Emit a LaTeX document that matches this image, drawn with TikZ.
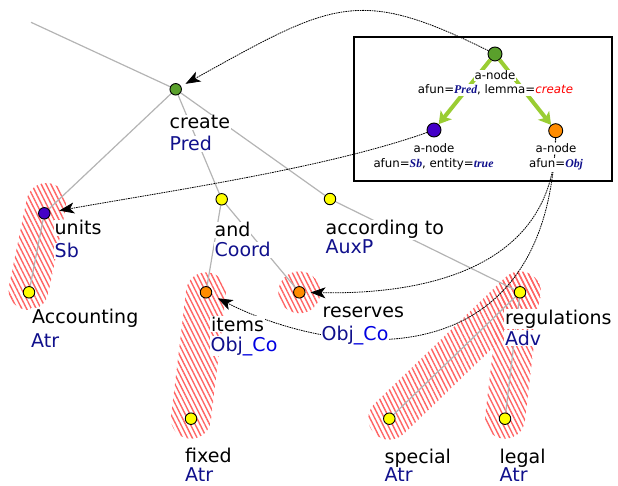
\documentclass[tikz,border=0pt]{standalone}
\usepackage{fontspec}
\setmainfont{DejaVu Sans}
\newfontfamily\lserif{Liberation Serif}
\usetikzlibrary{arrows.meta,patterns.meta}
\definecolor{navyc}{RGB}{16,16,140}
\definecolor{brightblue}{RGB}{0,0,225}
\definecolor{edgegray}{RGB}{180,180,180}
\definecolor{ygreen}{RGB}{154,205,50}
\definecolor{hatchred}{RGB}{255,100,100}
\definecolor{ngreen}{RGB}{90,160,44}
\definecolor{npurple}{RGB}{68,0,200}
\definecolor{norange}{RGB}{255,140,0}
\definecolor{nyellow}{RGB}{255,255,0}
\newcommand{\bif}[1]{{\lserif\bfseries\itshape\color{navyc}#1}}
\pgfdeclarelayer{hatchl}
\pgfdeclarelayer{edgel}
\pgfsetlayers{hatchl,edgel,main}
\tikzset{
  tn/.style={circle, draw=black, line width=0.9pt, minimum size=11.5pt, inner sep=0pt},
  bn/.style={circle, draw=black, line width=0.9pt, minimum size=14pt, inner sep=0pt},
  lbl/.style={fill=white, inner sep=1pt, anchor=base west, font=\fontsize{19}{22}\selectfont},
  fnl/.style={lbl, text=navyc},
  bl/.style={fill=white, inner sep=1pt, anchor=base, font=\fontsize{11.8}{13}\selectfont},
  edgeline/.style={draw=edgegray, line width=1.2pt},
  ptr/.style={black, line width=0.8pt, dash pattern=on 1.6pt off 0.8pt,
    -{Stealth[length=15pt,width=11pt,inset=4pt]}, shorten >=5pt},
  garr/.style={ygreen, line width=4pt, -{Stealth[length=12pt,width=14pt,inset=3pt]}},
  hatch/.style={pattern={Lines[angle=116.6,distance=4.3pt,line width=1.4pt]},
    pattern color=hatchred, draw=none, inner sep=0pt},
}
\begin{document}
\begin{tikzpicture}[x=1pt,y=-1pt]
\useasboundingbox (0,0) rectangle (618,486);
% hatched groups
\begin{pgfonlayer}{hatchl}
\node[hatch, rotate=78.4, minimum width=128.8pt, minimum height=40pt, rounded corners=20pt] (h1) at (37.5,246.5) {};
\node[hatch, rotate=83.2, minimum width=167.3pt, minimum height=40pt, rounded corners=20pt] (h2) at (198.5,355.5) {};
\node[hatch, circle, minimum size=42pt] (h3) at (299.3,292.3) {};
\node[hatch, rotate=44.0, minimum width=223.8pt, minimum height=42pt, rounded corners=21pt] (h4) at (454.65,355.5) {};
\node[hatch, rotate=83.2, minimum width=167.3pt, minimum height=40pt, rounded corners=20pt] (h5) at (512.5,355.5) {};
\end{pgfonlayer}
% tree nodes
\coordinate (top) at (31,22.3);
\node[tn, fill=ngreen] (create) at (175.7,89.3) {};
\node[tn, fill=npurple] (units) at (44.3,213.3) {};
\node[tn, fill=nyellow] (acc) at (29,292.3) {};
\node[tn, fill=nyellow] (and) at (221.7,199.3) {};
\node[tn, fill=nyellow] (accto) at (330,199) {};
\node[tn, fill=norange] (items) at (206,292.3) {};
\node[tn, fill=norange] (reserves) at (299.3,292.3) {};
\node[tn, fill=nyellow] (regs) at (520,292.3) {};
\node[tn, fill=nyellow] (fixed) at (191,418.7) {};
\node[tn, fill=nyellow] (special) at (389.3,418.7) {};
\node[tn, fill=nyellow] (legal) at (505,418.7) {};
% edges
\begin{pgfonlayer}{edgel}
\draw[edgeline] (top) -- (create);
\draw[edgeline] (create) -- (units);
\draw[edgeline] (create) -- (and);
\draw[edgeline] (create) -- (accto);
\draw[edgeline] (units) -- (acc);
\draw[edgeline] (and) -- (items);
\draw[edgeline] (and) -- (reserves);
\draw[edgeline] (accto) -- (regs);
\draw[edgeline] (regs) -- (special);
\draw[edgeline] (regs) -- (legal);
\end{pgfonlayer}
% legend box
\draw[line width=1.3pt] (354,37) rectangle (612,181);
\node[bn, fill=ngreen] (gA) at (495,54) {};
\node[bn, fill=npurple] (gB) at (434,130) {};
\node[bn, fill=norange] (gC) at (555.7,130.7) {};
\draw[garr] (gA) -- (gB);
\draw[garr] (gA) -- (gC);
% pointer arrows
\draw[ptr] (gA) .. controls (358,-14) and (333,2) .. (create);
\draw[ptr, shorten >=9pt] (gB) .. controls (327,168) and (169,191) .. (units);
\draw[ptr] (gC) .. controls (555,260) and (440,295) .. (reserves);
\draw[ptr, shorten >=7pt] (gC) .. controls (548,380) and (340,360) .. (items);
% box labels
\node[bl] (tA1) at (495,80) {a-node};
\node[bl] (tA2) at (495.5,93.5) {afun=\bif{Pred}, lemma=\textcolor{red}{\itshape create}};
\node[bl] (tB1) at (434,153) {a-node};
\node[bl] (tB2) at (433.5,168) {afun=\bif{Sb}, entity=\bif{true}};
\node[bl] (tC1) at (556,153) {a-node};
\node[bl] (tC2) at (556,168) {afun=\bif{Obj}};
% tree labels
\node[lbl] (l1) at (168.5,129) {create};
\node[fnl] (l1f) at (168.5,151) {Pred};
\node[lbl] (l2) at (53.5,235) {units};
\node[fnl] (l2f) at (53.5,258) {Sb};
\node[lbl] (l3) at (31,323) {Accounting};
\node[fnl] (l3f) at (30,347) {Atr};
\node[lbl] (l4) at (213.5,237) {and};
\node[fnl] (l4f) at (213.5,257) {Coord};
\node[lbl] (l5) at (324.5,235) {according to};
\node[fnl] (l5f) at (324.5,254) {AuxP};
\node[lbl] (l6) at (210,331) {items};
\node[fnl] (l6f) at (209.5,351) {Obj{\color{brightblue}\_Co}};
\node[lbl] (l7) at (321.5,317) {reserves};
\node[fnl] (l7f) at (320.5,340) {Obj{\color{brightblue}\_Co}};
\node[lbl] (l8) at (504,324) {regulations};
\node[fnl] (l8f) at (504,345) {Adv};
\node[lbl] (l9) at (184,462) {fixed};
\node[fnl] (l9f) at (184,481.5) {Atr};
\node[lbl] (l10) at (383.5,463) {special};
\node[fnl] (l10f) at (383.5,481.5) {Atr};
\node[lbl] (l11) at (498.5,463) {legal};
\node[fnl] (l11f) at (498.5,481.5) {Atr};
\end{tikzpicture}
\end{document}
